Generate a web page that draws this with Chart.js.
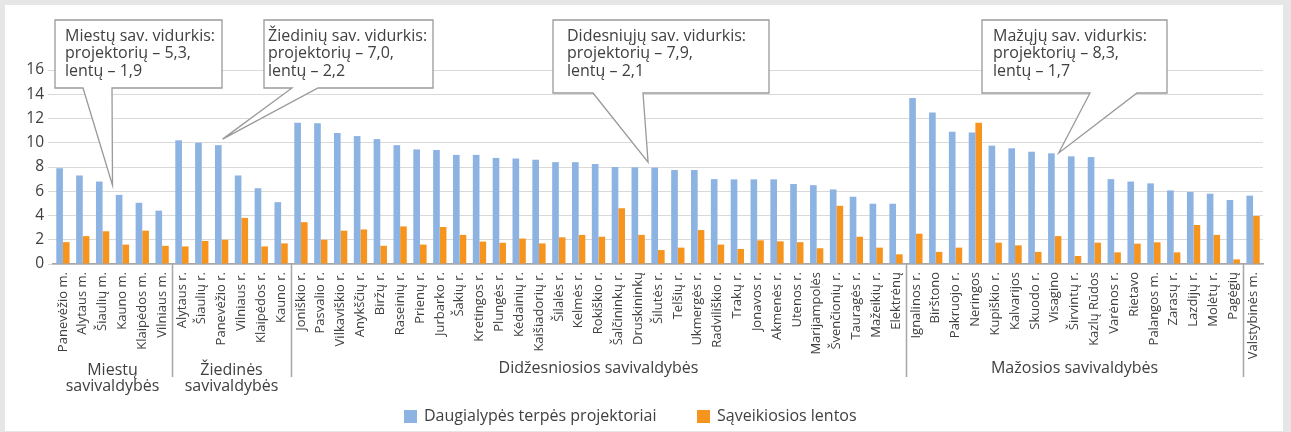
<!DOCTYPE html>
<html lang="lt">
<head>
  <meta charset="UTF-8" />
  <title>Projektoriai ir sąveikiosios lentos</title>
  <script src="https://cdn.jsdelivr.net/npm/chart.js"></script>
  <style>
    html, body { margin: 0; padding: 0; background: #e6e6e6; }
    #wrap { width: 1291px; height: 432px; position: relative; }
    canvas { display: block; }
  </style>
</head>
<body>
  <div id="wrap"><canvas id="chart" width="1291" height="432"></canvas></div>
  <script>
    const categories = [
      "Panevėžio m.", "Alytaus m.", "Šiaulių m.", "Kauno m.", "Klaipėdos m.", "Vilniaus m.",
      "Alytaus r.", "Šiaulių r.", "Panevėžio r.", "Vilniaus r.", "Klaipėdos r.", "Kauno r.",
      "Joniškio r.", "Pasvalio r.", "Vilkaviškio r.", "Anykščių r.", "Biržų r.", "Raseinių r.",
      "Prienų r.", "Jurbarko r.", "Šakių r.", "Kretingos r.", "Plungės r.", "Kėdainių r.",
      "Kaišiadorių r.", "Šilalės r.", "Kelmės r.", "Rokiškio r.", "Šalčininkų r.", "Druskininkų",
      "Šilutės r.", "Telšių r.", "Ukmergės r.", "Radviliškio r.", "Trakų r.", "Jonavos r.",
      "Akmenės r.", "Utenos r.", "Marijampolės", "Švenčionių r.", "Tauragės r.", "Mažeikių r.",
      "Elektrėnų",
      "Ignalinos r.", "Birštono", "Pakruojo r.", "Neringos", "Kupiškio r.", "Kalvarijos",
      "Skuodo r.", "Visagino", "Širvintų r.", "Kazlų Rūdos", "Varėnos r.", "Rietavo",
      "Palangos m.", "Zarasų r.", "Lazdijų r.", "Molėtų r.", "Pagėgių",
      "Valstybinės m."
    ];

    const projectors = [
      7.9, 7.3, 6.8, 5.7, 5.05, 4.4,
      10.2, 10.0, 9.8, 7.3, 6.25, 5.1,
      11.65, 11.6, 10.8, 10.55, 10.3, 9.8, 9.45, 9.4, 9.0, 9.0, 8.75, 8.7, 8.6, 8.4, 8.4, 8.25,
      8.0, 7.97, 7.95, 7.75, 7.75, 7.0, 6.98, 6.98, 6.98, 6.6, 6.5, 6.15, 5.55, 4.97, 4.97,
      13.7, 12.5, 10.9, 10.85, 9.76, 9.54, 9.26, 9.13, 8.88, 8.82, 7.0, 6.8, 6.65, 6.07, 5.94,
      5.8, 5.28,
      5.64
    ];

    const boards = [
      1.8, 2.3, 2.7, 1.6, 2.75, 1.5,
      1.45, 1.9, 2.0, 3.8, 1.45, 1.7,
      3.45, 2.0, 2.75, 2.85, 1.5, 3.1, 1.6, 3.05, 2.4, 1.85, 1.75, 2.1, 1.7, 2.2, 2.4, 2.25,
      4.6, 2.4, 1.15, 1.35, 2.8, 1.6, 1.24, 1.95, 1.87, 1.8, 1.3, 4.8, 2.25, 1.35, 0.8,
      2.5, 1.0, 1.35, 11.65, 1.76, 1.54, 1.0, 2.3, 0.66, 1.76, 0.96, 1.68, 1.79, 0.96, 3.22,
      2.4, 0.38,
      3.96
    ];

    const seriesNames = ["Daugialypės terpės projektoriai", "Sąveikiosios lentos"];
    const seriesColors = ["#8db3e2", "#f7941d"];

    // kategorijų grupės (antra ašies eilutė)
    const groupNames = [["Miestų", "savivaldybės"], ["Žiedinės", "savivaldybės"],
      ["Didžesniosios savivaldybės"], ["Mažosios savivaldybės"], []];
    const groupSizes = [6, 6, 31, 17, 1];

    const yTicks = [0, 2, 4, 6, 8, 10, 12, 14, 16];

    // vidurkių paaiškinimai
    const calloutTexts = [
      ["Miestų sav. vidurkis:", "projektorių – 5,3,", "lentų – 1,9"],
      ["Žiedinių sav. vidurkis:", "projektorių – 7,0,", "lentų – 2,2"],
      ["Didesniųjų sav. vidurkis:", "projektorių – 7,9,", "lentų – 2,1"],
      ["Mažųjų sav. vidurkis:", "projektorių – 8,3,", "lentų – 1,7"]
    ];
    const calloutTips = [[2.5, 6.5], [8.05, 10.3], [29.5, 8.4], [50.2, 9.15]];
    const calloutBoxes = [
      { l: 55, t: 20, r: 222, b: 88, bl: 83, br: 112, tx: 65 },
      { l: 264, t: 20, r: 433, b: 88, bl: 292, br: 318, tx: 268 },
      { l: 553, t: 20, r: 769, b: 93, bl: 593, br: 643, tx: 567 },
      { l: 982, t: 20, r: 1167, b: 93, bl: 1090, br: 1137, tx: 993 }
    ];

    const FONT = "'Open Sans', 'Noto Sans', sans-serif";
    const TEXT = "#404040";

    const extras = {
      id: "extras",
      beforeDraw(chart) {
        const c = chart.ctx;
        c.save();
        c.fillStyle = "#e6e6e6";
        c.fillRect(0, 0, chart.width, chart.height);
        c.fillStyle = "#ffffff";
        c.fillRect(5, 5, 1278, 426);
        c.restore();
      },
      afterDraw(chart) {
        const c = chart.ctx;
        const x = chart.scales.x;
        const y = chart.scales.y;
        const bottom = chart.chartArea.bottom;
        c.save();

        // grupių skirtukai ir pavadinimai
        let start = 0;
        groupSizes.forEach((n, gi) => {
          const end = start + n;
          if (gi > 0) {
            const px = Math.round(x.getPixelForValue(start - 0.5)) + 0.5;
            c.strokeStyle = "#a6a6a6";
            c.lineWidth = 1.5;
            c.beginPath();
            c.moveTo(px, bottom);
            c.lineTo(px, 377);
            c.stroke();
          }
          const cx = (x.getPixelForValue(start - 0.5) + x.getPixelForValue(end - 0.5)) / 2;
          c.fillStyle = TEXT;
          c.font = "16px " + FONT;
          c.textAlign = "center";
          c.textBaseline = "middle";
          const lines = groupNames[gi];
          const y0 = lines.length > 1 ? 370 : 368;
          lines.forEach((t, i) => c.fillText(t, cx, y0 + i * 16));
          start = end;
        });

        // paaiškinimų langeliai
        calloutBoxes.forEach((b, i) => {
          const tipX = x.getPixelForValue(calloutTips[i][0]);
          const tipY = y.getPixelForValue(calloutTips[i][1]);
          c.beginPath();
          c.moveTo(b.l, b.t);
          c.lineTo(b.r, b.t);
          c.lineTo(b.r, b.b);
          c.lineTo(b.br, b.b);
          c.lineTo(tipX, tipY);
          c.lineTo(b.bl, b.b);
          c.lineTo(b.l, b.b);
          c.closePath();
          c.fillStyle = "#ffffff";
          c.fill();
          c.strokeStyle = "#9a9a9a";
          c.lineWidth = 1.3;
          c.stroke();
          c.fillStyle = TEXT;
          c.font = "16px " + FONT;
          c.textAlign = "left";
          c.textBaseline = "middle";
          calloutTexts[i].forEach((t, k) => c.fillText(t, b.tx, 36.5 + k * 17.3));
        });

        // legenda
        const legX = [404, 697];
        chart.data.datasets.forEach((ds, i) => {
          c.fillStyle = ds.backgroundColor;
          c.fillRect(legX[i], 410, 13, 13);
          c.fillStyle = TEXT;
          c.font = "16px " + FONT;
          c.textAlign = "left";
          c.textBaseline = "middle";
          c.fillText(ds.label, legX[i] + 20, 416.5);
        });
        c.restore();
      }
    };

    new Chart(document.getElementById("chart"), {
      type: "bar",
      data: {
        labels: categories,
        datasets: [
          { label: seriesNames[0], data: projectors, backgroundColor: seriesColors[0] },
          { label: seriesNames[1], data: boards, backgroundColor: seriesColors[1] }
        ]
      },
      options: {
        responsive: false,
        animation: false,
        devicePixelRatio: 1,
        categoryPercentage: 0.67,
        barPercentage: 1.0,
        layout: { padding: { left: 5, top: 70, right: 28, bottom: 0 } },
        plugins: { legend: { display: false }, tooltip: { enabled: false } },
        scales: {
          x: {
            offset: true,
            grid: { display: false, drawTicks: false },
            border: { color: "#a6a6a6", width: 1.5 },
            ticks: {
              autoSkip: false, minRotation: 90, maxRotation: 90, padding: 8,
              color: TEXT, font: { family: FONT, size: 13 }
            },
            afterFit(s) { s.height = 168; }
          },
          y: {
            min: 0, max: 16,
            afterBuildTicks(s) { s.ticks = yTicks.map(v => ({ value: v })); },
            grid: { color: "#d9d9d9", tickLength: 5, tickColor: "#d9d9d9" },
            border: { display: false },
            ticks: { color: TEXT, padding: 4, font: { family: FONT, size: 15.5 } },
            afterFit(s) { s.width = 48; }
          }
        }
      },
      plugins: [extras]
    });
  </script>
</body>
</html>
